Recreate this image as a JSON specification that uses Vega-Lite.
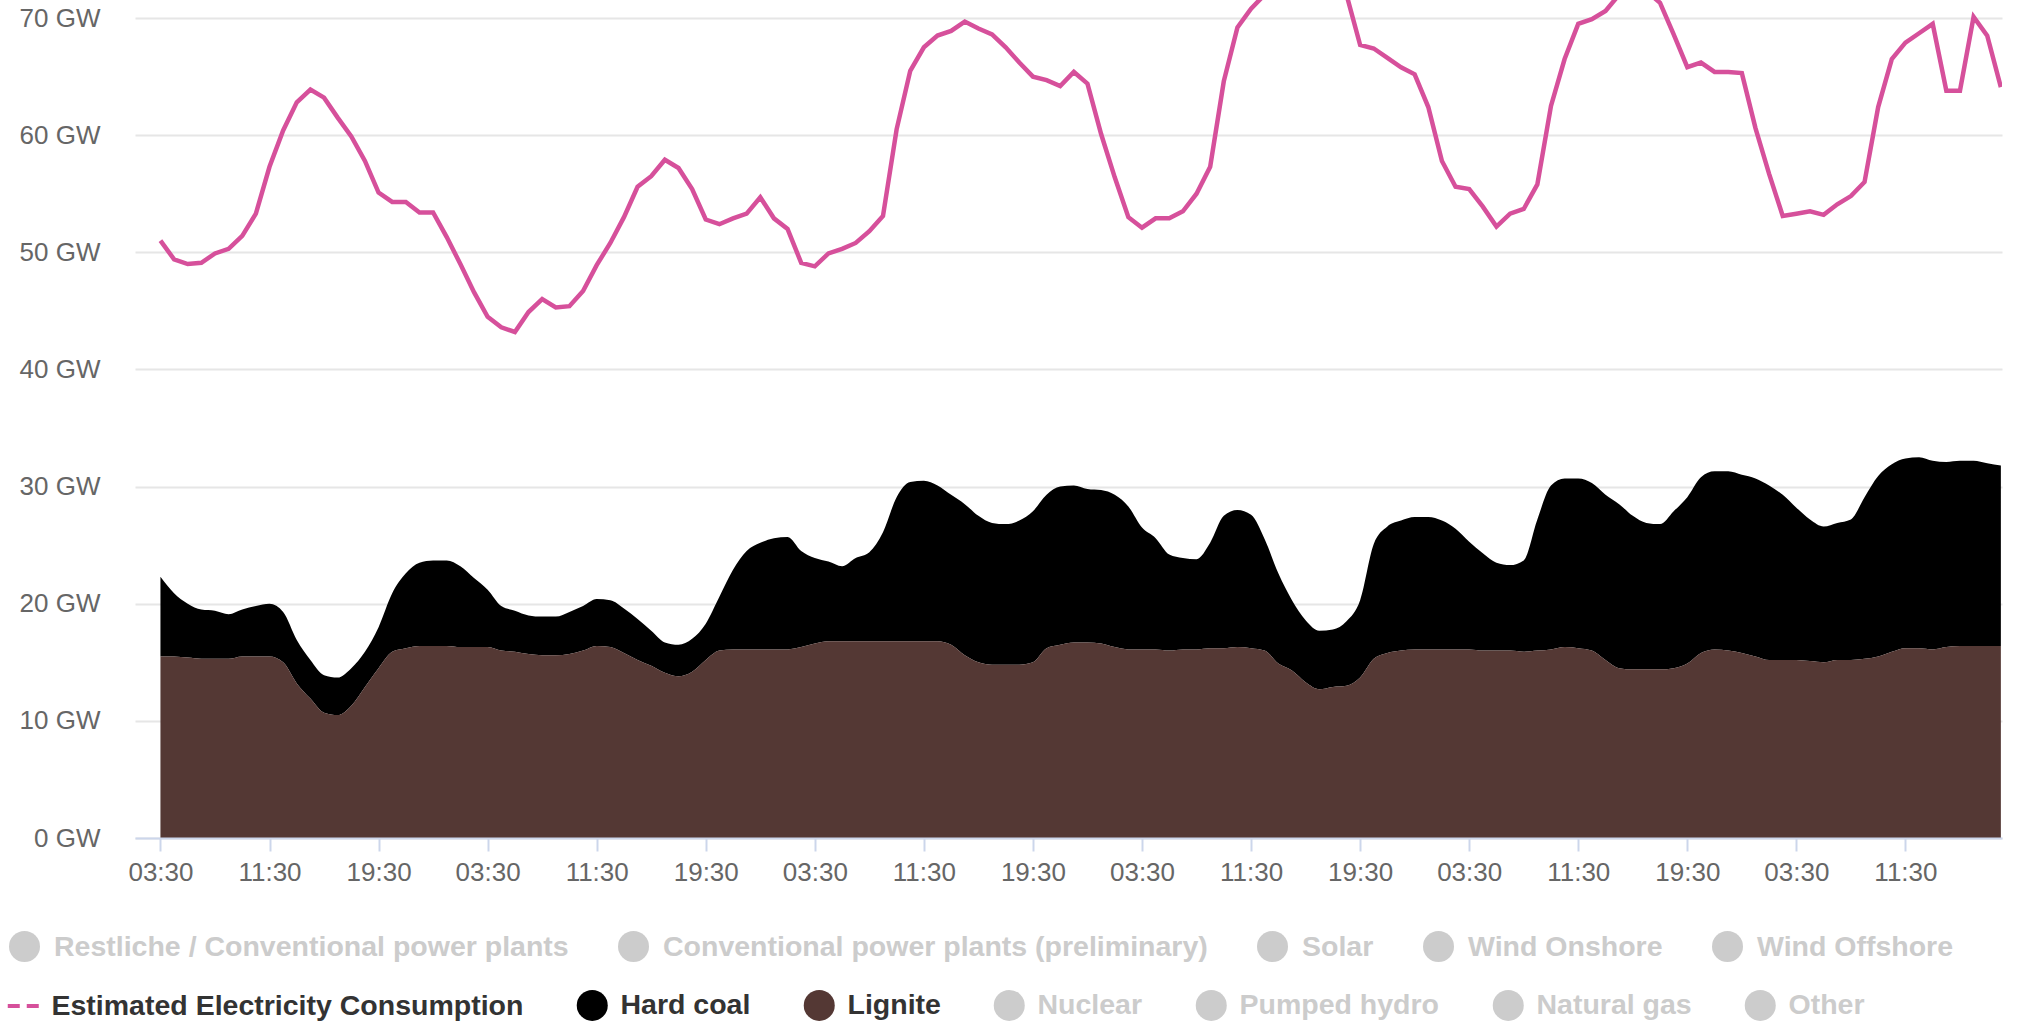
{
  "$schema": "https://vega.github.io/schema/vega-lite/v6.json",
  "width": 1867,
  "height": 838,
  "autosize": {"type": "none"},
  "padding": {"left": 135, "top": 0, "right": 18, "bottom": 183},
  "background": "white",
  "config": {"view": {"stroke": null}, "font": "Liberation Sans"},
  "data": {"values": [
    {"t":"2024-01-01T03:30","consumption":51.0,"Hard coal":6.8,"Lignite":15.5},
    {"t":"2024-01-01T04:30","consumption":49.4,"Hard coal":5.4,"Lignite":15.5},
    {"t":"2024-01-01T05:30","consumption":49.0,"Hard coal":4.6,"Lignite":15.4},
    {"t":"2024-01-01T06:30","consumption":49.1,"Hard coal":4.2,"Lignite":15.3},
    {"t":"2024-01-01T07:30","consumption":49.9,"Hard coal":4.1,"Lignite":15.3},
    {"t":"2024-01-01T08:30","consumption":50.3,"Hard coal":3.8,"Lignite":15.3},
    {"t":"2024-01-01T09:30","consumption":51.4,"Hard coal":4.0,"Lignite":15.5},
    {"t":"2024-01-01T10:30","consumption":53.3,"Hard coal":4.3,"Lignite":15.5},
    {"t":"2024-01-01T11:30","consumption":57.3,"Hard coal":4.5,"Lignite":15.5},
    {"t":"2024-01-01T12:30","consumption":60.4,"Hard coal":4.3,"Lignite":15.0},
    {"t":"2024-01-01T13:30","consumption":62.8,"Hard coal":3.7,"Lignite":13.2},
    {"t":"2024-01-01T14:30","consumption":63.9,"Hard coal":3.3,"Lignite":11.9},
    {"t":"2024-01-01T15:30","consumption":63.2,"Hard coal":3.2,"Lignite":10.7},
    {"t":"2024-01-01T16:30","consumption":61.5,"Hard coal":3.2,"Lignite":10.5},
    {"t":"2024-01-01T17:30","consumption":59.9,"Hard coal":3.2,"Lignite":11.3},
    {"t":"2024-01-01T18:30","consumption":57.8,"Hard coal":3.0,"Lignite":12.9},
    {"t":"2024-01-01T19:30","consumption":55.1,"Hard coal":3.5,"Lignite":14.5},
    {"t":"2024-01-01T20:30","consumption":54.3,"Hard coal":5.0,"Lignite":15.9},
    {"t":"2024-01-01T21:30","consumption":54.3,"Hard coal":6.4,"Lignite":16.2},
    {"t":"2024-01-01T22:30","consumption":53.4,"Hard coal":7.1,"Lignite":16.4},
    {"t":"2024-01-01T23:30","consumption":53.4,"Hard coal":7.3,"Lignite":16.4},
    {"t":"2024-01-02T00:30","consumption":51.3,"Hard coal":7.3,"Lignite":16.4},
    {"t":"2024-01-02T01:30","consumption":49.0,"Hard coal":6.9,"Lignite":16.3},
    {"t":"2024-01-02T02:30","consumption":46.6,"Hard coal":5.9,"Lignite":16.3},
    {"t":"2024-01-02T03:30","consumption":44.5,"Hard coal":4.9,"Lignite":16.3},
    {"t":"2024-01-02T04:30","consumption":43.6,"Hard coal":3.8,"Lignite":16.0},
    {"t":"2024-01-02T05:30","consumption":43.2,"Hard coal":3.5,"Lignite":15.9},
    {"t":"2024-01-02T06:30","consumption":44.9,"Hard coal":3.3,"Lignite":15.7},
    {"t":"2024-01-02T07:30","consumption":46.0,"Hard coal":3.3,"Lignite":15.6},
    {"t":"2024-01-02T08:30","consumption":45.3,"Hard coal":3.3,"Lignite":15.6},
    {"t":"2024-01-02T09:30","consumption":45.4,"Hard coal":3.6,"Lignite":15.7},
    {"t":"2024-01-02T10:30","consumption":46.7,"Hard coal":3.8,"Lignite":16.0},
    {"t":"2024-01-02T11:30","consumption":48.9,"Hard coal":4.0,"Lignite":16.4},
    {"t":"2024-01-02T12:30","consumption":50.8,"Hard coal":4.0,"Lignite":16.3},
    {"t":"2024-01-02T13:30","consumption":53.0,"Hard coal":3.8,"Lignite":15.8},
    {"t":"2024-01-02T14:30","consumption":55.6,"Hard coal":3.5,"Lignite":15.2},
    {"t":"2024-01-02T15:30","consumption":56.5,"Hard coal":3.0,"Lignite":14.7},
    {"t":"2024-01-02T16:30","consumption":57.9,"Hard coal":2.6,"Lignite":14.1},
    {"t":"2024-01-02T17:30","consumption":57.2,"Hard coal":2.7,"Lignite":13.8},
    {"t":"2024-01-02T18:30","consumption":55.4,"Hard coal":2.8,"Lignite":14.2},
    {"t":"2024-01-02T19:30","consumption":52.8,"Hard coal":3.1,"Lignite":15.2},
    {"t":"2024-01-02T20:30","consumption":52.4,"Hard coal":4.6,"Lignite":16.0},
    {"t":"2024-01-02T21:30","consumption":52.9,"Hard coal":6.8,"Lignite":16.1},
    {"t":"2024-01-02T22:30","consumption":53.3,"Hard coal":8.4,"Lignite":16.1},
    {"t":"2024-01-02T23:30","consumption":54.7,"Hard coal":9.1,"Lignite":16.1},
    {"t":"2024-01-03T00:30","consumption":52.9,"Hard coal":9.5,"Lignite":16.1},
    {"t":"2024-01-03T01:30","consumption":52.0,"Hard coal":9.6,"Lignite":16.1},
    {"t":"2024-01-03T02:30","consumption":49.1,"Hard coal":8.2,"Lignite":16.3},
    {"t":"2024-01-03T03:30","consumption":48.8,"Hard coal":7.3,"Lignite":16.6},
    {"t":"2024-01-03T04:30","consumption":49.9,"Hard coal":6.8,"Lignite":16.8},
    {"t":"2024-01-03T05:30","consumption":50.3,"Hard coal":6.4,"Lignite":16.8},
    {"t":"2024-01-03T06:30","consumption":50.8,"Hard coal":7.1,"Lignite":16.8},
    {"t":"2024-01-03T07:30","consumption":51.8,"Hard coal":7.6,"Lignite":16.8},
    {"t":"2024-01-03T08:30","consumption":53.1,"Hard coal":9.3,"Lignite":16.8},
    {"t":"2024-01-03T09:30","consumption":60.5,"Hard coal":12.3,"Lignite":16.8},
    {"t":"2024-01-03T10:30","consumption":65.5,"Hard coal":13.6,"Lignite":16.8},
    {"t":"2024-01-03T11:30","consumption":67.5,"Hard coal":13.7,"Lignite":16.8},
    {"t":"2024-01-03T12:30","consumption":68.5,"Hard coal":13.3,"Lignite":16.8},
    {"t":"2024-01-03T13:30","consumption":68.9,"Hard coal":12.8,"Lignite":16.5},
    {"t":"2024-01-03T14:30","consumption":69.7,"Hard coal":12.9,"Lignite":15.6},
    {"t":"2024-01-03T15:30","consumption":69.1,"Hard coal":12.5,"Lignite":15.0},
    {"t":"2024-01-03T16:30","consumption":68.6,"Hard coal":12.1,"Lignite":14.8},
    {"t":"2024-01-03T17:30","consumption":67.5,"Hard coal":12.0,"Lignite":14.8},
    {"t":"2024-01-03T18:30","consumption":66.2,"Hard coal":12.3,"Lignite":14.8},
    {"t":"2024-01-03T19:30","consumption":65.0,"Hard coal":12.9,"Lignite":15.0},
    {"t":"2024-01-03T20:30","consumption":64.7,"Hard coal":13.1,"Lignite":16.2},
    {"t":"2024-01-03T21:30","consumption":64.2,"Hard coal":13.5,"Lignite":16.5},
    {"t":"2024-01-03T22:30","consumption":65.4,"Hard coal":13.4,"Lignite":16.7},
    {"t":"2024-01-03T23:30","consumption":64.4,"Hard coal":13.1,"Lignite":16.7},
    {"t":"2024-01-04T00:30","consumption":60.1,"Hard coal":13.1,"Lignite":16.6},
    {"t":"2024-01-04T01:30","consumption":56.4,"Hard coal":13.0,"Lignite":16.3},
    {"t":"2024-01-04T02:30","consumption":53.0,"Hard coal":12.2,"Lignite":16.1},
    {"t":"2024-01-04T03:30","consumption":52.1,"Hard coal":10.4,"Lignite":16.1},
    {"t":"2024-01-04T04:30","consumption":52.9,"Hard coal":9.5,"Lignite":16.1},
    {"t":"2024-01-04T05:30","consumption":52.9,"Hard coal":8.2,"Lignite":16.0},
    {"t":"2024-01-04T06:30","consumption":53.5,"Hard coal":7.8,"Lignite":16.1},
    {"t":"2024-01-04T07:30","consumption":55.0,"Hard coal":7.7,"Lignite":16.1},
    {"t":"2024-01-04T08:30","consumption":57.3,"Hard coal":9.0,"Lignite":16.2},
    {"t":"2024-01-04T09:30","consumption":64.6,"Hard coal":11.3,"Lignite":16.2},
    {"t":"2024-01-04T10:30","consumption":69.2,"Hard coal":11.7,"Lignite":16.3},
    {"t":"2024-01-04T11:30","consumption":70.8,"Hard coal":11.4,"Lignite":16.2},
    {"t":"2024-01-04T12:30","consumption":72.0,"Hard coal":9.5,"Lignite":16.0},
    {"t":"2024-01-04T13:30","consumption":72.8,"Hard coal":7.7,"Lignite":14.9},
    {"t":"2024-01-04T14:30","consumption":73.3,"Hard coal":6.0,"Lignite":14.3},
    {"t":"2024-01-04T15:30","consumption":73.5,"Hard coal":5.3,"Lignite":13.3},
    {"t":"2024-01-04T16:30","consumption":73.3,"Hard coal":5.0,"Lignite":12.7},
    {"t":"2024-01-04T17:30","consumption":72.8,"Hard coal":4.9,"Lignite":12.9},
    {"t":"2024-01-04T18:30","consumption":72.0,"Hard coal":5.5,"Lignite":13.0},
    {"t":"2024-01-04T19:30","consumption":67.7,"Hard coal":6.6,"Lignite":13.7},
    {"t":"2024-01-04T20:30","consumption":67.4,"Hard coal":9.8,"Lignite":15.3},
    {"t":"2024-01-04T21:30","consumption":66.6,"Hard coal":10.8,"Lignite":15.8},
    {"t":"2024-01-04T22:30","consumption":65.8,"Hard coal":11.1,"Lignite":16.0},
    {"t":"2024-01-04T23:30","consumption":65.2,"Hard coal":11.3,"Lignite":16.1},
    {"t":"2024-01-05T00:30","consumption":62.4,"Hard coal":11.3,"Lignite":16.1},
    {"t":"2024-01-05T01:30","consumption":57.8,"Hard coal":11.0,"Lignite":16.1},
    {"t":"2024-01-05T02:30","consumption":55.6,"Hard coal":10.3,"Lignite":16.1},
    {"t":"2024-01-05T03:30","consumption":55.4,"Hard coal":9.2,"Lignite":16.1},
    {"t":"2024-01-05T04:30","consumption":53.9,"Hard coal":8.3,"Lignite":16.0},
    {"t":"2024-01-05T05:30","consumption":52.2,"Hard coal":7.5,"Lignite":16.0},
    {"t":"2024-01-05T06:30","consumption":53.3,"Hard coal":7.3,"Lignite":16.0},
    {"t":"2024-01-05T07:30","consumption":53.7,"Hard coal":7.8,"Lignite":15.9},
    {"t":"2024-01-05T08:30","consumption":55.8,"Hard coal":11.2,"Lignite":16.0},
    {"t":"2024-01-05T09:30","consumption":62.5,"Hard coal":14.0,"Lignite":16.1},
    {"t":"2024-01-05T10:30","consumption":66.5,"Hard coal":14.4,"Lignite":16.3},
    {"t":"2024-01-05T11:30","consumption":69.5,"Hard coal":14.5,"Lignite":16.2},
    {"t":"2024-01-05T12:30","consumption":69.9,"Hard coal":14.3,"Lignite":16.0},
    {"t":"2024-01-05T13:30","consumption":70.6,"Hard coal":14.1,"Lignite":15.2},
    {"t":"2024-01-05T14:30","consumption":72.0,"Hard coal":14.0,"Lignite":14.5},
    {"t":"2024-01-05T15:30","consumption":72.6,"Hard coal":13.1,"Lignite":14.4},
    {"t":"2024-01-05T16:30","consumption":72.3,"Hard coal":12.5,"Lignite":14.4},
    {"t":"2024-01-05T17:30","consumption":71.3,"Hard coal":12.4,"Lignite":14.4},
    {"t":"2024-01-05T18:30","consumption":68.6,"Hard coal":13.4,"Lignite":14.5},
    {"t":"2024-01-05T19:30","consumption":65.8,"Hard coal":14.2,"Lignite":14.9},
    {"t":"2024-01-05T20:30","consumption":66.2,"Hard coal":15.0,"Lignite":15.8},
    {"t":"2024-01-05T21:30","consumption":65.4,"Hard coal":15.2,"Lignite":16.1},
    {"t":"2024-01-05T22:30","consumption":65.4,"Hard coal":15.3,"Lignite":16.0},
    {"t":"2024-01-05T23:30","consumption":65.3,"Hard coal":15.2,"Lignite":15.8},
    {"t":"2024-01-06T00:30","consumption":60.6,"Hard coal":15.2,"Lignite":15.5},
    {"t":"2024-01-06T01:30","consumption":56.7,"Hard coal":14.9,"Lignite":15.2},
    {"t":"2024-01-06T02:30","consumption":53.1,"Hard coal":14.1,"Lignite":15.2},
    {"t":"2024-01-06T03:30","consumption":53.3,"Hard coal":13.0,"Lignite":15.2},
    {"t":"2024-01-06T04:30","consumption":53.5,"Hard coal":12.1,"Lignite":15.1},
    {"t":"2024-01-06T05:30","consumption":53.2,"Hard coal":11.6,"Lignite":15.0},
    {"t":"2024-01-06T06:30","consumption":54.1,"Hard coal":11.7,"Lignite":15.2},
    {"t":"2024-01-06T07:30","consumption":54.8,"Hard coal":12.0,"Lignite":15.2},
    {"t":"2024-01-06T08:30","consumption":56.0,"Hard coal":13.8,"Lignite":15.3},
    {"t":"2024-01-06T09:30","consumption":62.4,"Hard coal":15.4,"Lignite":15.5},
    {"t":"2024-01-06T10:30","consumption":66.5,"Hard coal":16.0,"Lignite":15.9},
    {"t":"2024-01-06T11:30","consumption":67.9,"Hard coal":16.2,"Lignite":16.2},
    {"t":"2024-01-06T12:30","consumption":68.7,"Hard coal":16.3,"Lignite":16.2},
    {"t":"2024-01-06T13:30","consumption":69.5,"Hard coal":16.1,"Lignite":16.1},
    {"t":"2024-01-06T14:30","consumption":63.8,"Hard coal":15.8,"Lignite":16.3},
    {"t":"2024-01-06T15:30","consumption":63.8,"Hard coal":15.8,"Lignite":16.4},
    {"t":"2024-01-06T16:30","consumption":70.1,"Hard coal":15.8,"Lignite":16.4},
    {"t":"2024-01-06T17:30","consumption":68.5,"Hard coal":15.6,"Lignite":16.4},
    {"t":"2024-01-06T18:30","consumption":64.1,"Hard coal":15.4,"Lignite":16.4}
  ]},
  "layer": [
    {
      "transform": [{"fold": ["Hard coal", "Lignite"], "as": ["source", "GW"]}],
      "mark": {"type": "area", "interpolate": "monotone"},
      "encoding": {
        "x": {
          "field": "t", "type": "temporal",
          "scale": {"domain": [
            {"year": 2024, "month": 1, "date": 1, "hours": 1, "minutes": 38},
            {"year": 2024, "month": 1, "date": 6, "hours": 18, "minutes": 35}
          ]},
          "axis": {
            "values": [
              {"year": 2024, "month": 1, "date": 1, "hours": 3, "minutes": 30},
              {"year": 2024, "month": 1, "date": 1, "hours": 11, "minutes": 30},
              {"year": 2024, "month": 1, "date": 1, "hours": 19, "minutes": 30},
              {"year": 2024, "month": 1, "date": 2, "hours": 3, "minutes": 30},
              {"year": 2024, "month": 1, "date": 2, "hours": 11, "minutes": 30},
              {"year": 2024, "month": 1, "date": 2, "hours": 19, "minutes": 30},
              {"year": 2024, "month": 1, "date": 3, "hours": 3, "minutes": 30},
              {"year": 2024, "month": 1, "date": 3, "hours": 11, "minutes": 30},
              {"year": 2024, "month": 1, "date": 3, "hours": 19, "minutes": 30},
              {"year": 2024, "month": 1, "date": 4, "hours": 3, "minutes": 30},
              {"year": 2024, "month": 1, "date": 4, "hours": 11, "minutes": 30},
              {"year": 2024, "month": 1, "date": 4, "hours": 19, "minutes": 30},
              {"year": 2024, "month": 1, "date": 5, "hours": 3, "minutes": 30},
              {"year": 2024, "month": 1, "date": 5, "hours": 11, "minutes": 30},
              {"year": 2024, "month": 1, "date": 5, "hours": 19, "minutes": 30},
              {"year": 2024, "month": 1, "date": 6, "hours": 3, "minutes": 30},
              {"year": 2024, "month": 1, "date": 6, "hours": 11, "minutes": 30}
            ],
            "format": "%H:%M", "title": null, "grid": false, "zindex": 1,
            "domainColor": "#ccd6eb", "domainWidth": 2,
            "tickColor": "#ccd6eb", "tickWidth": 2, "tickSize": 13,
            "labelFont": "Liberation Sans", "labelFontSize": 26, "labelColor": "#666666",
            "labelPadding": 8, "labelFlush": false, "labelOverlap": false
          }
        },
        "y": {
          "field": "GW", "type": "quantitative", "stack": "zero",
          "scale": {"domain": [0, 71.54], "nice": false, "zero": true},
          "axis": {
            "values": [0, 10, 20, 30, 40, 50, 60, 70],
            "labelExpr": "datum.value + ' GW'", "title": null,
            "domain": false, "ticks": false, "grid": true,
            "gridColor": "#e6e6e6", "gridWidth": 2,
            "labelFont": "Liberation Sans", "labelFontSize": 26, "labelColor": "#666666",
            "labelPadding": 35
          }
        },
        "color": {
          "field": "source", "type": "nominal",
          "scale": {
            "domain": ["Estimated Electricity Consumption", "Hard coal", "Lignite", "Nuclear", "Pumped hydro", "Natural gas", "Other"],
            "range": ["#d6509b", "#000000", "#543834", "#cccccc", "#cccccc", "#cccccc", "#cccccc"]
          },
          "legend": {
            "orient": "none", "legendX": -126, "legendY": 991, "direction": "horizontal",
            "title": null, "padding": 0, "symbolSize": 961, "symbolType": "circle",
            "symbolStrokeWidth": 0, "symbolOpacity": 1,
            "labelFont": "Liberation Sans", "labelFontSize": 28.5, "labelFontWeight": "bold",
            "labelColor": "#333333", "labelOffset": 14, "columnPadding": 52, "labelLimit": 1000,
            "encode": {
              "symbols": {"update": {
                "shape": {"signal": "datum.value === 'Estimated Electricity Consumption' ? 'stroke' : 'circle'"},
                "fill": {"signal": "datum.value === 'Estimated Electricity Consumption' ? 'transparent' : scale('color', datum.value)"},
                "stroke": {"signal": "datum.value === 'Estimated Electricity Consumption' ? '#cc84b6' : 'transparent'"},
                "strokeWidth": {"signal": "datum.value === 'Estimated Electricity Consumption' ? 4 : 0"},
                "strokeDash": {"signal": "datum.value === 'Estimated Electricity Consumption' ? [12, 7] : [1, 0]"},
                "opacity": {"value": 1}
              }},
              "labels": {"update": {
                "fill": {"signal": "indexof(['Estimated Electricity Consumption', 'Hard coal', 'Lignite'], datum.value) >= 0 ? '#333333' : '#cccccc'"}
              }}
            }
          }
        },
        "order": {"field": "source", "sort": "descending"}
      }
    },
    {
      "mark": {"type": "line", "strokeWidth": 4.5, "clip": true},
      "encoding": {
        "x": {"field": "t", "type": "temporal"},
        "y": {"field": "consumption", "type": "quantitative"},
        "color": {"datum": "Estimated Electricity Consumption"}
      }
    },
    {
      "data": {"values": [{"k": "Solar"}]},
      "mark": {"type": "point", "filled": true, "opacity": 0},
      "encoding": {
        "fill": {
          "field": "k", "type": "nominal",
          "scale": {
            "domain": ["Restliche / Conventional power plants", "Conventional power plants (preliminary)", "Solar", "Wind Onshore", "Wind Offshore"],
            "range": ["#cccccc", "#cccccc", "#cccccc", "#cccccc", "#cccccc"]
          },
          "legend": {
            "orient": "none", "legendX": -126, "legendY": 931, "direction": "horizontal",
            "title": null, "padding": 0, "symbolSize": 961, "symbolType": "circle",
            "symbolStrokeWidth": 0, "symbolOpacity": 1, "symbolFillColor": "#cccccc",
            "labelFont": "Liberation Sans", "labelFontSize": 28.5, "labelFontWeight": "bold",
            "labelColor": "#cccccc", "labelOffset": 14, "columnPadding": 49, "labelLimit": 1000,
            "encode": {"symbols": {"update": {"opacity": {"value": 1}, "fill": {"value": "#cccccc"}}}}
          }
        }
      }
    }
  ]
}
